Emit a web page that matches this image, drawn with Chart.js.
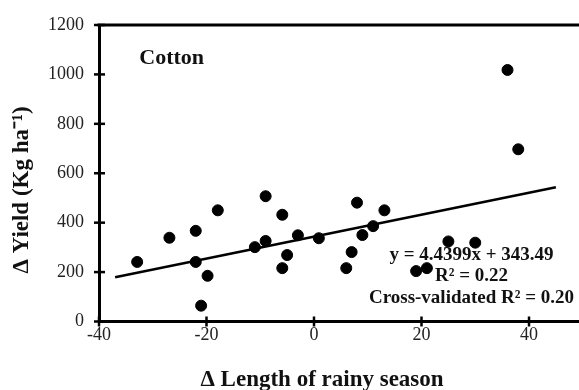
<!DOCTYPE html>
<html>
<head>
<meta charset="utf-8">
<script src="https://cdn.jsdelivr.net/npm/chart.js@4/dist/chart.umd.min.js"></script>
<style>
  html, body { margin: 0; padding: 0; background: #fff; }
  #wrap { width: 579px; height: 390px; }
</style>
</head>
<body>
<div id="wrap"><canvas id="cottonChart" width="579" height="390"></canvas></div>
<script>
// change in rainy season length (days) vs change in cotton yield
var lengthChange = [-32.9, -26.9, -22.0, -22.0, -21.0, -19.8, -17.9, -11.0, -9.0, -9.0,
                    -5.9, -5.0, -5.9, -3.0, 0.9, 6.0, 7.0, 8.0, 9.0, 11.0,
                    13.1, 19.0, 21.0, 25.0, 30.0, 36.0, 38.0];
var yieldChange = [241, 339, 367, 241, 64, 185, 450, 301, 507, 326,
                   432, 269, 216, 349, 337, 216, 281, 481, 350, 386,
                   450, 204, 216, 324, 319, 1018, 697];

// fitted regression
var slope = 4.4399;
var intercept = 343.49;
var fitRange = [-37, 45];

var xTicks = [-40, -20, 0, 20, 40];
var yTicks = [0, 200, 400, 600, 800, 1000, 1200];

var serif = '"Liberation Serif", "Times New Roman", serif';

var points = lengthChange.map(function(x, i) { return {x: x, y: yieldChange[i]}; });
var fitLine = fitRange.map(function(x) { return {x: x, y: slope * x + intercept}; });

// ticks that cross the axis lines, the frame line at the top, axis titles and notes
var framePlugin = {
    id: 'frame',
    afterDraw: function(chart) {
        var ctx = chart.ctx;
        var area = chart.chartArea;
        var xs = chart.scales.x, ys = chart.scales.y;
        ctx.save();
        ctx.strokeStyle = '#000';
        ctx.lineWidth = 3;
        ctx.beginPath();
        ctx.moveTo(area.left - 1.5, area.top);
        ctx.lineTo(area.right, area.top);
        ctx.stroke();

        ctx.lineWidth = 2.5;
        xTicks.forEach(function(v) {
            var px = xs.getPixelForValue(v);
            ctx.beginPath();
            ctx.moveTo(px, area.bottom - 5);
            ctx.lineTo(px, area.bottom + 5);
            ctx.stroke();
        });
        yTicks.forEach(function(v) {
            var py = ys.getPixelForValue(v);
            ctx.beginPath();
            ctx.moveTo(area.left - 5, py);
            ctx.lineTo(area.left + 6, py);
            ctx.stroke();
        });

        ctx.fillStyle = '#111';
        ctx.textBaseline = 'middle';
        ctx.font = 'bold 22px ' + serif;
        ctx.textAlign = 'left';
        ctx.fillText('Cotton', xs.getPixelForValue(-32.5), ys.getPixelForValue(1066));

        ctx.font = 'bold 19px ' + serif;
        ctx.textAlign = 'center';
        var cx = xs.getPixelForValue(29.3);
        ctx.fillText('y = 4.4399x + 343.49', cx, ys.getPixelForValue(269));
        ctx.fillText('R\u00b2 = 0.22', cx, ys.getPixelForValue(182));
        ctx.fillText('Cross-validated R\u00b2 = 0.20', cx, ys.getPixelForValue(95));

        // axis titles
        ctx.font = 'bold 23px ' + serif;
        ctx.fillText('\u0394 Length of rainy season', 322, 380);
        ctx.translate(22, 190);
        ctx.rotate(-Math.PI / 2);
        ctx.fillText('\u0394 Yield (Kg ha\u207b\u00b9)', 0, 0);
        ctx.restore();
    }
};

new Chart(document.getElementById('cottonChart').getContext('2d'), {
    type: 'scatter',
    data: {
        datasets: [{
            data: points,
            backgroundColor: '#000',
            borderColor: '#000',
            pointRadius: 5.5,
            pointHoverRadius: 5.5
        }, {
            type: 'line',
            data: fitLine,
            borderColor: '#000',
            borderWidth: 2.5,
            pointRadius: 0,
            fill: false
        }]
    },
    options: {
        responsive: false,
        animation: false,
        layout: {
            autoPadding: false,
            padding: { top: 25, right: 0, left: 0, bottom: 0 }
        },
        plugins: {
            legend: { display: false },
            tooltip: { enabled: false }
        },
        scales: {
            x: {
                type: 'linear',
                min: -40,
                max: 49.3,
                afterFit: function(scale) {
                    scale.height = 68.5;
                    scale.paddingLeft = 0;
                    scale.paddingRight = 0;
                },
                afterBuildTicks: function(scale) {
                    scale.ticks = xTicks.map(function(v) { return {value: v}; });
                },
                border: { display: true, color: '#000', width: 3 },
                grid: { display: false, drawTicks: false },
                ticks: {
                    padding: 3,
                    color: '#222',
                    font: { family: serif, size: 18 },
                    callback: function(v) { return String(v); }
                }
            },
            y: {
                min: 0,
                max: 1200,
                afterFit: function(scale) {
                    scale.width = 99;
                    scale.paddingTop = 0;
                    scale.paddingBottom = 0;
                },
                afterBuildTicks: function(scale) {
                    scale.ticks = yTicks.map(function(v) { return {value: v}; });
                },
                border: { display: true, color: '#000', width: 3 },
                grid: { display: false, drawTicks: false },
                ticks: {
                    padding: 15,
                    color: '#222',
                    font: { family: serif, size: 18 },
                    callback: function(v) { return String(v); }
                }
            }
        }
    },
    plugins: [framePlugin]
});
</script>
</body>
</html>
